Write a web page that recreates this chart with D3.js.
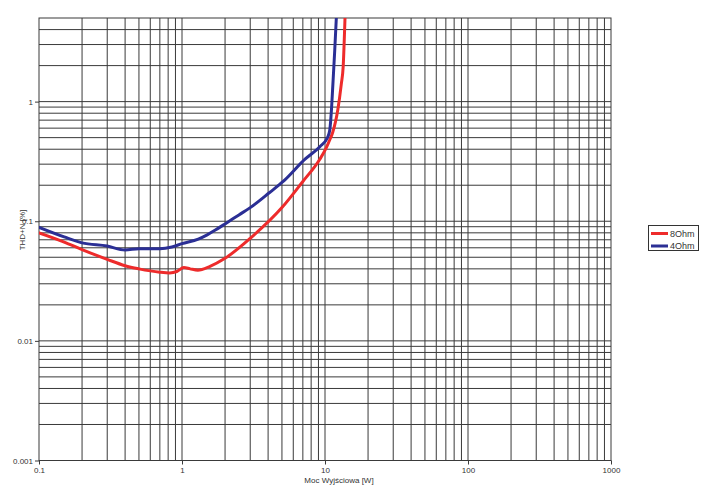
<!DOCTYPE html>
<html><head><meta charset="utf-8">
<script src="https://cdn.jsdelivr.net/npm/d3@7"></script>
<style>body{margin:0;background:#fff}svg{display:block}text{font-family:"Liberation Sans",Arial,sans-serif}</style>
</head><body><svg id="c" width="705" height="486"></svg>
<script>
const seriesNames = ["8Ohm", "4Ohm"];
const seriesColors = ["#ee2b2b", "#2b2f95"];
const power8 = [0.1,0.15,0.2,0.3,0.4,0.5,0.7,0.82,0.92,1.03,1.14,1.29,1.57,2.0,3.0,5.0,7.0,9.2,10.2,10.8,11.3,12.3,13.0,13.4,13.8];
const thd8   = [0.080,0.067,0.058,0.048,0.0425,0.040,0.0375,0.037,0.038,0.041,0.040,0.039,0.042,0.049,0.072,0.13,0.215,0.33,0.41,0.48,0.55,0.86,1.4,1.96,5.0];
const power4 = [0.1,0.15,0.2,0.3,0.4,0.5,0.7,0.85,1.0,1.3,1.5,1.7,2.0,2.5,3.0,4.1,5.1,7.25,9.2,10.4,10.8,11.1,11.3,11.7,12.0];
const thd4   = [0.089,0.074,0.066,0.062,0.0575,0.059,0.059,0.061,0.065,0.071,0.077,0.084,0.095,0.113,0.13,0.174,0.215,0.33,0.42,0.50,0.58,0.86,1.26,2.7,5.0];
const xTicks = [0.1,1,10,100,1000];
const xTickLabels = ["0.1","1","10","100","1000"];
const yTicks = [0.001,0.01,0.1,1];
const yTickLabels = ["0.001","0.01","0.1","1"];
const xTitle = "Moc Wyjściowa [W]";
const yTitle = "THD+N [%]";

const svg = d3.select("#c");
const L = 39, R = 611, T = 18, B = 460.5;
const x = d3.scaleLog().domain([0.1,1000]).range([L,R]);
const y = d3.scaleLog().domain([0.001,5]).range([B,T]);

// grid
const xg = [], yg = [];
for (let d = 0.1; d < 1000; d *= 10) for (let k = 1; k <= 9; k++) { const v = +(d*k).toPrecision(3); if (v > 0.1 && v < 1000) xg.push(v); }
for (let d = 0.001; d < 5; d *= 10) for (let k = 1; k <= 9; k++) { const v = +(d*k).toPrecision(3); if (v > 0.001 && v < 5) yg.push(v); }
const grid = svg.append("g").attr("stroke","#3a3a3a").attr("stroke-width",1);
grid.selectAll(".vx").data(xg).enter().append("line")
  .attr("x1",d=>x(d)).attr("x2",d=>x(d)).attr("y1",T).attr("y2",B);
grid.selectAll(".hy").data(yg).enter().append("line")
  .attr("y1",d=>y(d)).attr("y2",d=>y(d)).attr("x1",L).attr("x2",R);
svg.append("rect").attr("x",L).attr("y",T).attr("width",R-L).attr("height",B-T)
  .attr("fill","none").attr("stroke","#3a3a3a").attr("stroke-width",1);

// axes
const xa = svg.append("g").attr("transform",`translate(0,${B})`)
  .call(d3.axisBottom(x).tickValues(xTicks).tickSize(4).tickPadding(3).tickFormat((d,i)=>xTickLabels[i]));
const ya = svg.append("g").attr("transform",`translate(${L},0)`)
  .call(d3.axisLeft(y).tickValues(yTicks).tickSize(4).tickPadding(2).tickFormat((d,i)=>yTickLabels[i]));
[xa,ya].forEach(a=>{a.select(".domain").remove();a.selectAll("line").attr("stroke","#3a3a3a");
  a.selectAll("text").attr("fill","#333").style("font-size","8px").style("font-family","'Liberation Sans',Arial,sans-serif");});

svg.append("text").attr("x",339).attr("y",482.5).attr("text-anchor","middle")
  .attr("fill","#333").style("font-size","8px").text(xTitle);
svg.append("text").attr("transform","translate(25,230) rotate(-90)").attr("text-anchor","middle")
  .attr("fill","#333").style("font-size","8px").text(yTitle);

// lines
const line = d3.line().x(d=>x(d[0])).y(d=>y(d[1])).curve(d3.curveMonotoneX);
const data = [d3.zip(power8,thd8), d3.zip(power4,thd4)];
svg.append("clipPath").attr("id","cp").append("rect").attr("x",L).attr("y",T).attr("width",R-L).attr("height",B-T);
svg.append("g").attr("clip-path","url(#cp)").selectAll("path").data(data).enter().append("path")
  .attr("d",line).attr("fill","none").attr("stroke",(d,i)=>seriesColors[i]).attr("stroke-width",3)
  .attr("stroke-linejoin","round").attr("stroke-linecap","round");

// legend
const lg = svg.append("g");
lg.append("rect").attr("x",648.5).attr("y",225.5).attr("width",50).attr("height",25)
  .attr("fill","#fff").attr("stroke","#333").attr("stroke-width",1);
seriesNames.forEach((n,i)=>{
  const yy = 233.5 + i*12.5;
  lg.append("line").attr("x1",651).attr("x2",668).attr("y1",yy).attr("y2",yy)
    .attr("stroke",seriesColors[i]).attr("stroke-width",3);
  lg.append("text").attr("x",670).attr("y",yy+3.2).attr("fill","#333").style("font-size","9px").text(n);
});
</script></body></html>
